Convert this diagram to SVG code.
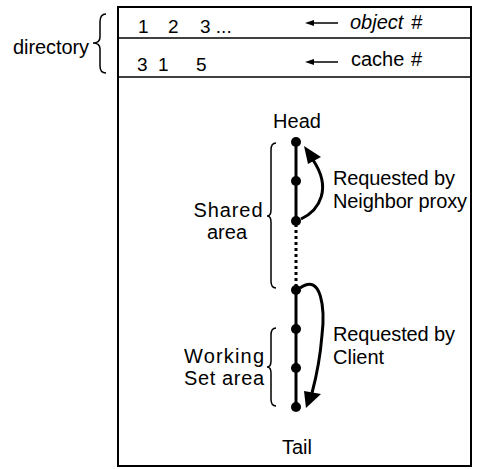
<svg xmlns="http://www.w3.org/2000/svg" width="479" height="469" viewBox="0 0 479 469">
<style>
text{font-family:"Liberation Sans",Arial,sans-serif;fill:#000}
.t{font-size:20px}
.s{font-size:19px}
.ln{stroke:#000;fill:none}
.node{fill:#000}
</style>
<rect width="479" height="469" fill="#fff"/>
<g id="table">
<rect x="118" y="7" width="353" height="459" class="ln" stroke-width="2"/>
<line x1="118" y1="38" x2="471" y2="38" class="ln" stroke-width="1.5"/>
<line x1="118" y1="77" x2="471" y2="77" class="ln" stroke-width="1.5"/>
<text class="s" x="138" y="33">1</text>
<text class="s" x="168" y="33">2</text>
<text class="s" x="200" y="33">3 ...</text>
<text class="s" x="137" y="71">3</text>
<text class="s" x="158" y="71">1</text>
<text class="s" x="196" y="71">5</text>
<polygon points="305,23 314,20 314,26"/>
<line x1="313" y1="23" x2="338" y2="23" class="ln" stroke-width="1.5"/>
<polygon points="305,62 314,59 314,65"/>
<line x1="313" y1="62" x2="338" y2="62" class="ln" stroke-width="1.5"/>
<text class="t" x="350" y="29" font-style="italic">object</text>
<text class="t" x="411" y="29" font-style="italic">#</text>
<text class="t" x="351" y="66">cache</text>
<text class="t" x="411" y="66">#</text>
</g>
<g id="directory">
<text class="t" x="13" y="54" textLength="76">directory</text>
<path d="M106 14 Q100 14 100 22 L100 37 Q100 43 93 43 Q100 43 100 49 L100 66 Q100 73 106 73" class="ln" stroke-width="1.5"/>
</g>
<g id="labels">
<text class="t" x="297" y="128" text-anchor="middle">Head</text>
<text class="t" x="297" y="454" text-anchor="middle">Tail</text>
<text class="t" x="228" y="217" text-anchor="middle" textLength="69">Shared</text>
<text class="t" x="227" y="239" text-anchor="middle">area</text>
<text class="t" x="264" y="363" text-anchor="end" textLength="80">Working</text>
<text class="t" x="264" y="385" text-anchor="end" textLength="80">Set area</text>
<text class="t" x="333" y="185" textLength="122">Requested by</text>
<text class="t" x="333" y="208" textLength="134">Neighbor proxy</text>
<text class="t" x="333" y="341" textLength="122">Requested by</text>
<text class="t" x="333" y="364">Client</text>
<path d="M276 143 Q271 143 271 150 L271 210 Q271 216 267 216 Q271 216 271 222 L271 281 Q271 288 276 288" class="ln" stroke-width="1.5"/>
<path d="M276 328 Q271 328 271 335 L271 361 Q271 367 267 367 Q271 367 271 373 L271 399 Q271 406 276 406" class="ln" stroke-width="1.5"/>
</g>
<g id="connectors">
<line x1="296" y1="142" x2="296" y2="222" class="ln" stroke-width="3"/>
<line x1="296" y1="224" x2="296" y2="288" class="ln" stroke-width="3" stroke-dasharray="3,3"/>
<line x1="296" y1="290" x2="296" y2="407" class="ln" stroke-width="3"/>
<path d="M301 219 C320 210 332 188 313 160" class="ln" stroke-width="3"/>
<polygon points="304,146 321,157 308,164"/>
<path d="M300 288 C322 272 325 310 322 335 C320 360 316 378 312 393" class="ln" stroke-width="3"/>
<polygon points="306,408 304,391 321,394"/>
</g>
<g id="nodes">
<circle class="node" cx="296" cy="142" r="5"/>
<circle class="node" cx="296" cy="181" r="5"/>
<circle class="node" cx="296" cy="221" r="5"/>
<circle class="node" cx="296" cy="290" r="5"/>
<circle class="node" cx="296" cy="329" r="5"/>
<circle class="node" cx="296" cy="368" r="5"/>
<circle class="node" cx="296" cy="407" r="5"/>
</g>
</svg>
